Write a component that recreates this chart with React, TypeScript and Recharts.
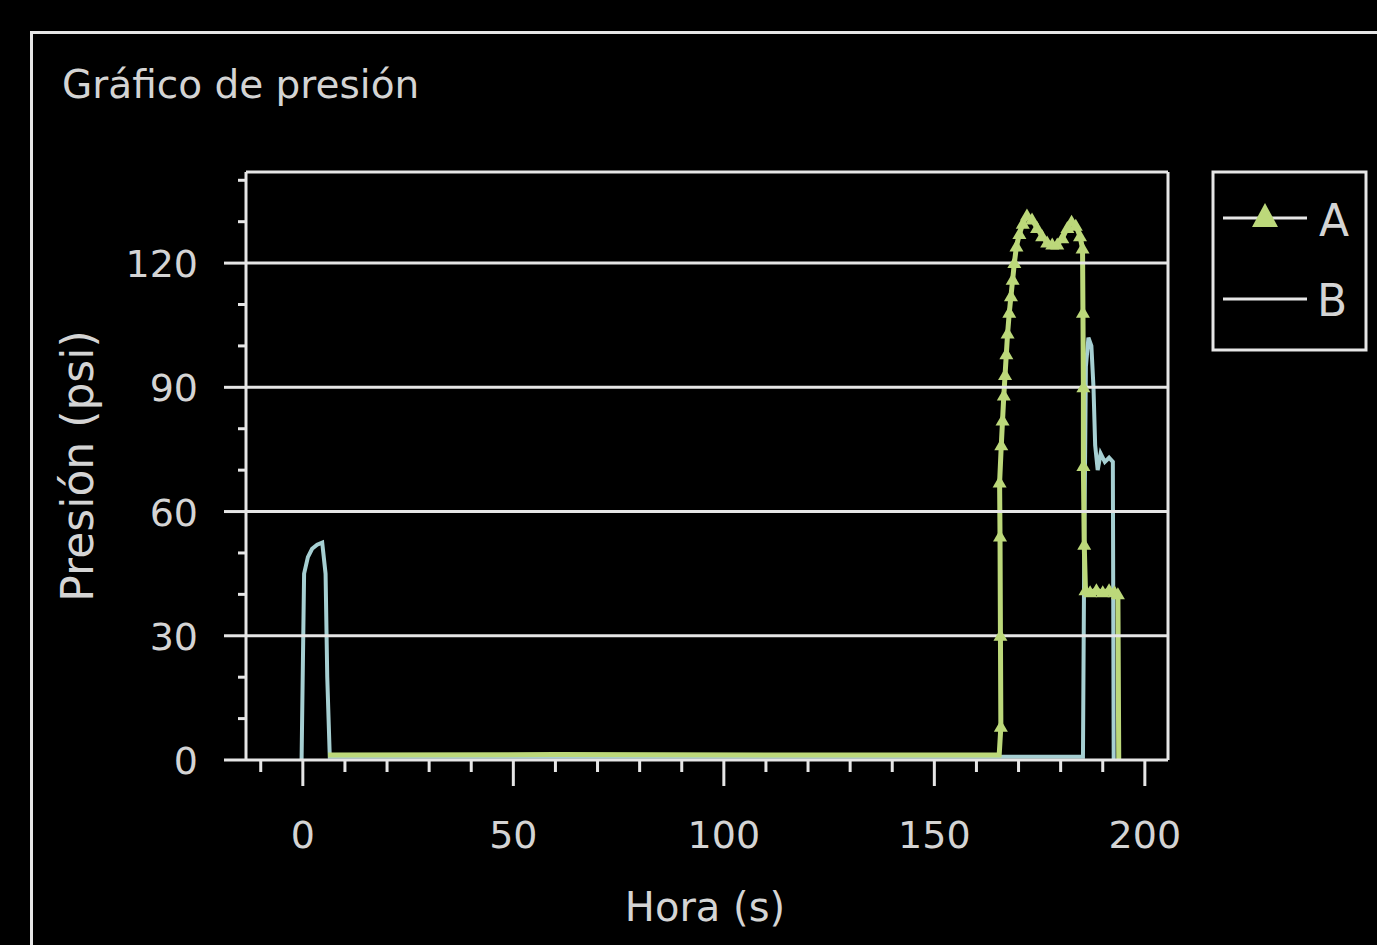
import React from 'react';
import { LineChart, Line, XAxis, YAxis, ReferenceLine } from 'recharts';

// series A (green, triangles)
const timeA = [
  6, 60, 120, 165.4, 165.8, 165.7, 165.6, 165.5, 165.9, 166.2, 166.5, 166.8, 167.1, 167.4, 167.8, 168.2, 168.6,
  169.0, 169.5, 170.2, 171.0, 172.0, 173.2, 174.4, 175.6, 176.8, 178.0, 179.2, 180.4, 181.6, 182.6,
  183.6, 184.6, 185.2, 185.3, 185.4, 185.4, 185.6, 185.9, 187.0, 188.5, 190.0, 191.5, 192.8, 193.6, 193.8,
];
const pressureA = [
  1.2, 1.3, 1.2, 1.2, 8, 30, 54, 67, 76, 82, 88, 93, 98, 103, 108, 112, 116,
  120, 124, 127, 129.5, 131.5, 130.5, 128.5, 126.5, 125, 124.5, 124.5, 126, 128.5, 130,
  129, 126.5, 123.5, 108, 90, 71, 52, 41, 40.5, 41, 40.5, 41, 40.5, 40, 0,
];

// series B (blue-grey, no markers)
const timeB = [
  -0.3, 0.3, 1.2, 2.2, 3.4, 4.6, 5.4, 5.8, 6.4, 185.3, 185.6, 186.0, 186.6, 187.3, 187.8, 188.2,
  188.8, 189.5, 190.5, 191.5, 192.4, 192.6,
];
const pressureB = [
  0, 45, 49, 51, 52, 52.5, 45, 20, 0.8, 0.8, 50, 95, 102, 100, 90, 76,
  70, 74, 72, 73, 72, 0,
];

const seriesNames = ['A', 'B'];
const xTicks = [-10, 0, 10, 20, 30, 40, 50, 60, 70, 80, 90, 100, 110, 120, 130, 140, 150, 160, 170, 180, 190, 200];
const xTickLabels = [0, 50, 100, 150, 200];
const yTicks = [0, 10, 20, 30, 40, 50, 60, 70, 80, 90, 100, 110, 120, 130, 140];
const yTickLabels = [0, 30, 60, 90, 120];
const gridValues = [30, 60, 90, 120];

const dataA = timeA.map((t, i) => ({ t, p: pressureA[i] }));
const dataB = timeB.map((t, i) => ({ t, p: pressureB[i] }));

const WHITE = '#e6e6e6';
const TEXT = '#d4d4d4';
const GREEN = '#bcd87a';
const BLUE = '#a6cfd2';
const FONT = '"DejaVu Sans", sans-serif';

const XTick = (props: any) => {
  const { x, y, payload } = props;
  const major = xTickLabels.includes(payload.value);
  return (
    <g>
      <line x1={x} y1={y} x2={x} y2={y + (major ? 26 : 12)} stroke={WHITE} strokeWidth={3} />
      {major && (
        <text x={x} y={y + 88} textAnchor="middle" fill={TEXT} fontSize={38} fontFamily={FONT}>
          {payload.value}
        </text>
      )}
    </g>
  );
};

const YTick = (props: any) => {
  const { x, y, payload } = props;
  const major = yTickLabels.includes(payload.value);
  return (
    <g>
      <line x1={x} y1={y} x2={x - (major ? 22 : 8)} y2={y} stroke={WHITE} strokeWidth={3} />
      {major && (
        <text x={x - 48} y={y + 14} textAnchor="end" fill={TEXT} fontSize={38} fontFamily={FONT}>
          {payload.value}
        </text>
      )}
    </g>
  );
};

const Triangle = (props: any) => {
  const { cx, cy, payload, index } = props;
  if (!payload || payload.p <= 2) return <g key={`d${index}`} />;
  return (
    <polygon
      key={`d${index}`}
      points={`${cx},${cy - 7} ${cx + 7},${cy + 5} ${cx - 7},${cy + 5}`}
      fill={GREEN}
      stroke="none"
    />
  );
};

export default function App() {
  return (
    <div
      style={{
        position: 'absolute',
        left: 0,
        top: 0,
        width: 1377,
        height: 945,
        background: '#000',
        overflow: 'hidden',
        fontFamily: FONT,
      }}
    >
      <div
        style={{
          position: 'absolute',
          left: 30,
          top: 31,
          width: 1500,
          height: 1100,
          border: `3px solid ${WHITE}`,
        }}
      />
      <div style={{ position: 'absolute', left: 0, top: 0 }}>
        <LineChart width={1377} height={945} margin={{ top: 172, right: 209, bottom: 0, left: 0 }}>
          <XAxis
            type="number"
            dataKey="t"
            domain={[-13.5, 205.5]}
            ticks={xTicks}
            interval={0}
            height={185}
            tickSize={0}
            tickMargin={0}
            tickLine={false}
            tick={<XTick />}
            axisLine={{ stroke: WHITE, strokeWidth: 3 }}
            allowDataOverflow
          />
          <YAxis
            type="number"
            domain={[0, 142]}
            ticks={yTicks}
            interval={0}
            width={246}
            tickSize={0}
            tickMargin={0}
            tickLine={false}
            tick={<YTick />}
            axisLine={{ stroke: WHITE, strokeWidth: 3 }}
            allowDataOverflow
          />
          <Line
            data={dataB}
            dataKey="p"
            name={seriesNames[1]}
            type="linear"
            stroke={BLUE}
            strokeWidth={4}
            dot={false}
            isAnimationActive={false}
          />
          <Line
            data={dataA}
            dataKey="p"
            name={seriesNames[0]}
            type="linear"
            stroke={GREEN}
            strokeWidth={5}
            dot={Triangle}
            isAnimationActive={false}
          />
          {gridValues.map((v) => (
            <ReferenceLine key={v} y={v} stroke={WHITE} strokeWidth={3} />
          ))}
          <ReferenceLine y={142} stroke={WHITE} strokeWidth={3} />
          <ReferenceLine x={205.5} stroke={WHITE} strokeWidth={3} />
        </LineChart>
      </div>
      <svg
        width={1377}
        height={945}
        style={{ position: 'absolute', left: 0, top: 0, pointerEvents: 'none' }}
      >
        <text x={62} y={98} fill={TEXT} fontSize={39} fontFamily={FONT}>
          Gráfico de presión
        </text>
        <text
          x={93}
          y={466}
          transform="rotate(-90 93 466)"
          textAnchor="middle"
          fill={TEXT}
          fontSize={44}
          fontFamily={FONT}
        >
          Presión (psi)
        </text>
        <text x={705} y={921} textAnchor="middle" fill={TEXT} fontSize={40} fontFamily={FONT}>
          Hora (s)
        </text>
        <rect x={1213} y={172} width={153} height={178} fill="none" stroke={WHITE} strokeWidth={3} />
        <line x1={1223} y1={218} x2={1307} y2={218} stroke={WHITE} strokeWidth={3} />
        <polygon points="1265,203 1278,227 1252,227" fill={GREEN} />
        <text x={1319} y={236} fill={TEXT} fontSize={44} fontFamily={FONT}>
          {seriesNames[0]}
        </text>
        <line x1={1223} y1={299} x2={1307} y2={299} stroke={WHITE} strokeWidth={3} />
        <text x={1317} y={316} fill={TEXT} fontSize={44} fontFamily={FONT}>
          {seriesNames[1]}
        </text>
      </svg>
    </div>
  );
}
